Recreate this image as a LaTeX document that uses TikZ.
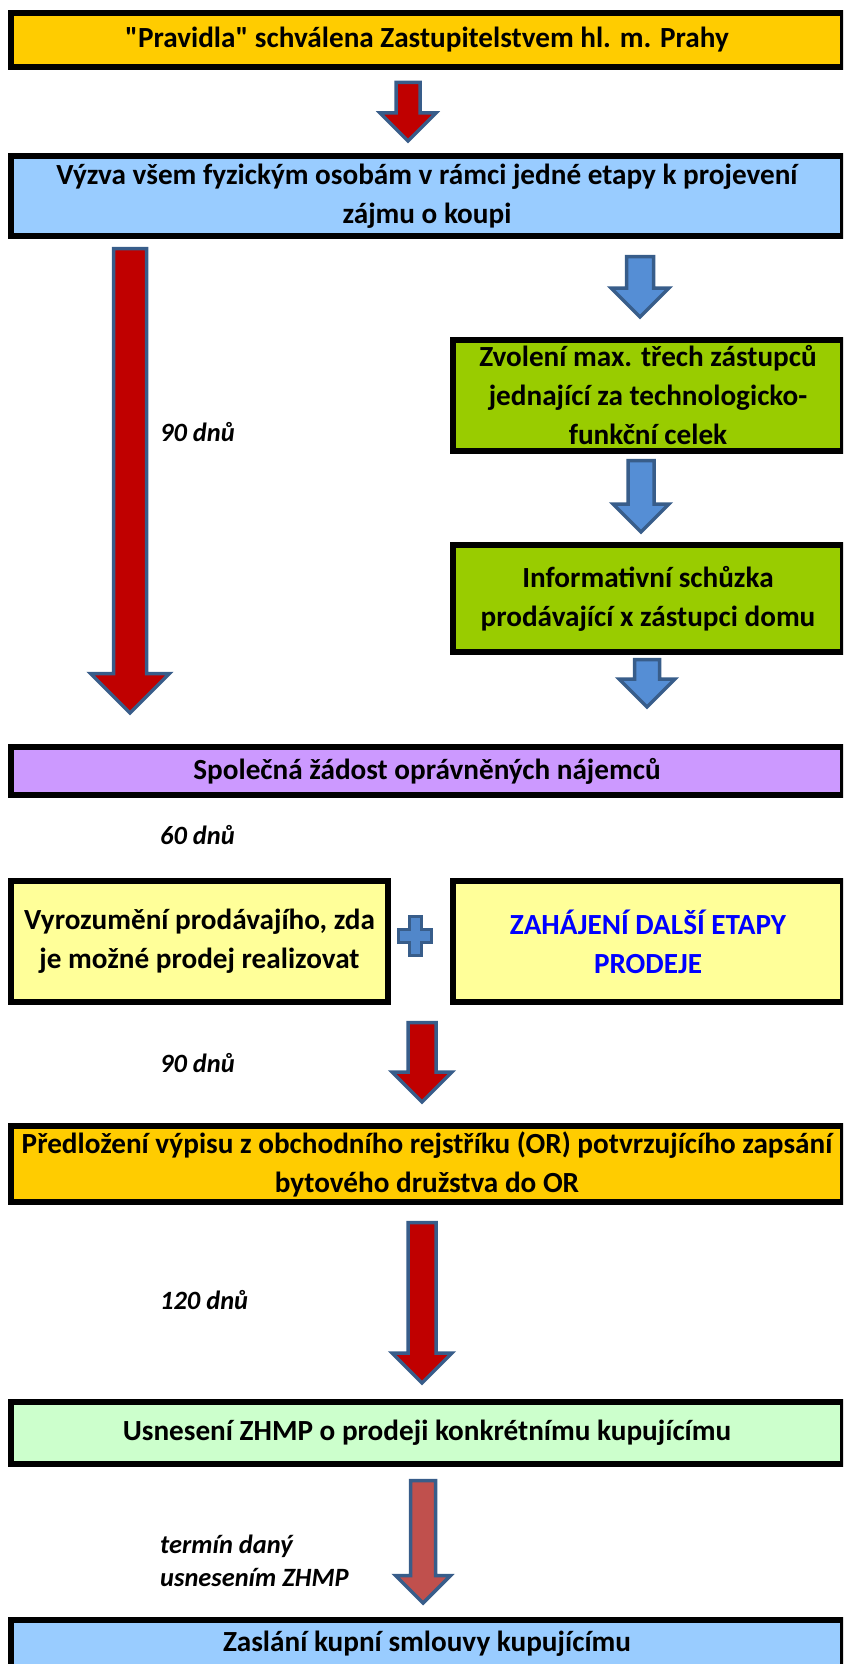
\documentclass[tikz,border=0pt]{standalone}
\usepackage{fontspec}
\setmainfont{Carlito}[Ligatures=TeXOff]
\usetikzlibrary{positioning}

\definecolor{rulesorange}{HTML}{FFCC00}
\definecolor{callblue}{HTML}{99CCFF}
\definecolor{repsgreen}{HTML}{99CC00}
\definecolor{requestpurple}{HTML}{CC99FF}
\definecolor{noticeyellow}{HTML}{FFFF99}
\definecolor{resgreen}{HTML}{CCFFCC}
\definecolor{stageblue}{HTML}{0000FF}
\definecolor{arrowred}{HTML}{C00000}
\definecolor{arrowsoft}{HTML}{C0504D}
\definecolor{arrowblue}{HTML}{558ED5}
\definecolor{arrowline}{HTML}{385D8A}

\newcommand{\boxfont}{\fontsize{29.2}{39}\selectfont\bfseries}
\newcommand{\notefont}{\fontsize{26.4}{33}\selectfont\bfseries\itshape}
% block arrow: style, x, top, tip, shaft half width, head half width
\newcommand{\blockarrow}[6]{%
  \draw[#1] (#2-#5,#3) -- (#2+#5,#3) -- (#2+#5,#4-#6) -- (#2+#6,#4-#6)
    -- (#2,#4) -- (#2-#6,#4-#6) -- (#2-#5,#4-#6) -- cycle;}

\begin{document}
\begin{tikzpicture}[
    x=1pt, y=-1pt,
    box/.style={rectangle, draw=black, line width=6pt, inner sep=0pt, align=center, font=\boxfont},
    note/.style={anchor=west, inner sep=0pt, align=left, font=\notefont},
    redarrow/.style={fill=arrowred, draw=arrowline, line width=3.5pt},
    softarrow/.style={fill=arrowsoft, draw=arrowline, line width=3.5pt},
    bluearrow/.style={fill=arrowblue, draw=arrowline, line width=3.5pt},
    plussign/.style={fill=arrowblue!85!arrowline, draw=arrowline, line width=3pt},
]
\useasboundingbox (0,0) rectangle (843,1664);
\clip (0,0) rectangle (843,1664);

% Main steps
\node[box, fill=rulesorange, minimum width=832, minimum height=54] (rules) at (427,40) {"Pravidla" schválena Zastupitelstvem hl. m. Prahy};
\node[box, fill=callblue, minimum width=832, minimum height=80] (call) at (427,196) {Výzva všem fyzickým osobám v rámci jedné etapy k projevení\\zájmu o koupi};

% Right branch
\node[box, fill=repsgreen, minimum width=390, minimum height=111] (reps) at (648,395.5) {Zvolení max. třech zástupců\\jednající za technologicko-\\funkční celek};
\node[box, fill=repsgreen, minimum width=390, minimum height=107] (meeting) at (648,598.5) {Informativní schůzka\\prodávající x zástupci domu};

\node[box, fill=requestpurple, minimum width=832, minimum height=48] (request) at (427,771) {Společná žádost oprávněných nájemců};

% Two parallel boxes
\node[box, fill=noticeyellow, minimum width=377, minimum height=121] (notice) at (199.5,941.5) {Vyrozumění prodávajího, zda\\je možné prodej realizovat};
\node[box, fill=noticeyellow, minimum width=390, minimum height=121, text=stageblue] (nextstage) at (648,941.5) {ZAHÁJENÍ DALŠÍ ETAPY\\PRODEJE};

\node[box, fill=rulesorange, minimum width=832, minimum height=76] (register) at (427,1164) {Předložení výpisu z obchodního rejstříku (OR) potvrzujícího zapsání\\bytového družstva do OR};
\node[box, fill=resgreen, minimum width=832, minimum height=62] (resolution) at (427,1433) {Usnesení ZHMP o prodeji konkrétnímu kupujícímu};
\node[box, fill=callblue, minimum width=832, minimum height=48] (contract) at (427,1644) {Zaslání kupní smlouvy kupujícímu};

% Deadlines
\node[note] (days90a) at (160,432) {90 dnů};
\node[note] (days60) at (160,835) {60 dnů};
\node[note] (days90b) at (160,1063) {90 dnů};
\node[note] (days120) at (160,1300) {120 dnů};
\node[note] (term) at (160,1561) {termín daný\\usnesením ZHMP};

% Arrows
\blockarrow{redarrow}{408}{82.5}{141}{12}{28}
\blockarrow{redarrow}{130}{248.5}{713}{16.5}{39.5}
\blockarrow{bluearrow}{640}{256.5}{317}{13.5}{29}
\blockarrow{bluearrow}{641}{460.5}{532}{13}{28}
\blockarrow{bluearrow}{647}{659.5}{707}{12.5}{28}
\blockarrow{redarrow}{422}{1022.5}{1102}{14}{30}
\blockarrow{redarrow}{422}{1222.5}{1383}{14}{30}
\blockarrow{softarrow}{423}{1480.5}{1603}{12.5}{27.5}

% Plus between the yellow boxes
\draw[plussign] (409,916.5) -- (421,916.5) -- (421,929.5) -- (431.5,929.5) -- (431.5,942) -- (421,942)
  -- (421,955.5) -- (409,955.5) -- (409,942) -- (398.5,942) -- (398.5,929.5) -- (409,929.5) -- cycle;

\end{tikzpicture}
\end{document}
